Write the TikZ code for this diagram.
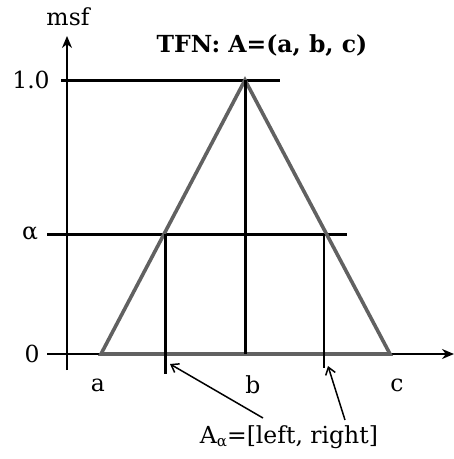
\documentclass[tikz,border=0pt]{standalone}
\usepackage{tikz}
\usepackage{fontspec}
\setmainfont{DejaVu Serif}
\usetikzlibrary{arrows.meta,positioning}

\begin{document}
\begin{tikzpicture}[x=1pt, y=-1pt, >=Stealth,
  every node/.style={font=\fontsize{23.5}{26}\selectfont, inner sep=1pt},
  axis/.style={line width=1.9pt, ->, >={Stealth[length=12pt,width=10pt]}},
  level/.style={line width=3pt},
  tfn/.style={line width=3.6pt, draw=black!62, line join=miter},
  cut/.style={line width=3pt},
  pointer/.style={line width=1.5pt, ->, >={Straight Barb[length=7pt,width=10pt]}}]
  \useasboundingbox (0,0) rectangle (454,459);
  % triangular fuzzy number
  \coordinate (a) at (101,354);
  \coordinate (b) at (245,80);
  \coordinate (c) at (390,354);
  \coordinate (bfoot) at (245,354);
  \coordinate (lcut) at (165,234);
  \coordinate (rcut) at (324,234);
  \coordinate (lfoot) at (165,374);
  \coordinate (rfoot) at (324,368);
  % axes
  \coordinate (ybot) at (67,370);
  \coordinate (ytop) at (67,36);
  \coordinate (xleft) at (47,354);
  \coordinate (xright) at (454,354);
  \coordinate (oneL) at (61,80);
  \coordinate (oneR) at (280,80);
  \coordinate (alphaL) at (47,234);
  \coordinate (alphaR) at (347,234);
  \draw[axis] (ybot) -- (ytop);
  \draw[axis] (xleft) -- (xright);
  \draw[level] (oneL) -- (oneR);
  \draw[level] (alphaL) -- (alphaR);
  \draw[tfn] (a) -- (b) -- (c) -- cycle;
  \draw[cut] (b) -- (bfoot);
  \draw[cut] (lcut) -- (lfoot);
  \draw[line width=2pt] (rcut) -- (rfoot);
  % labels
  \node (msf) at (68,17) {msf};
  \node (title) at (262,46) {\textbf{TFN: A=(a, b, c)}};
  \node (one) at (31,80) {1.0};
  \node (alpha) at (30,234) {α};
  \node (zero) at (32,354) {0};
  \node (la) at (98,385) {a};
  \node (lb) at (253,385) {b};
  \node (lc) at (397,385) {c};
  \node (cutlbl) at (289,437) {A\raisebox{-0.3ex}{\fontsize{15}{17}\selectfont α}=[left, right]};
  % pointers to the cut ends
  \coordinate (p1) at (263,418);
  \coordinate (p2) at (345,420);
  \coordinate (t1) at (170,364);
  \coordinate (t2) at (328,366);
  \draw[pointer] (p1) -- (t1);
  \draw[pointer] (p2) -- (t2);
\end{tikzpicture}
\end{document}
